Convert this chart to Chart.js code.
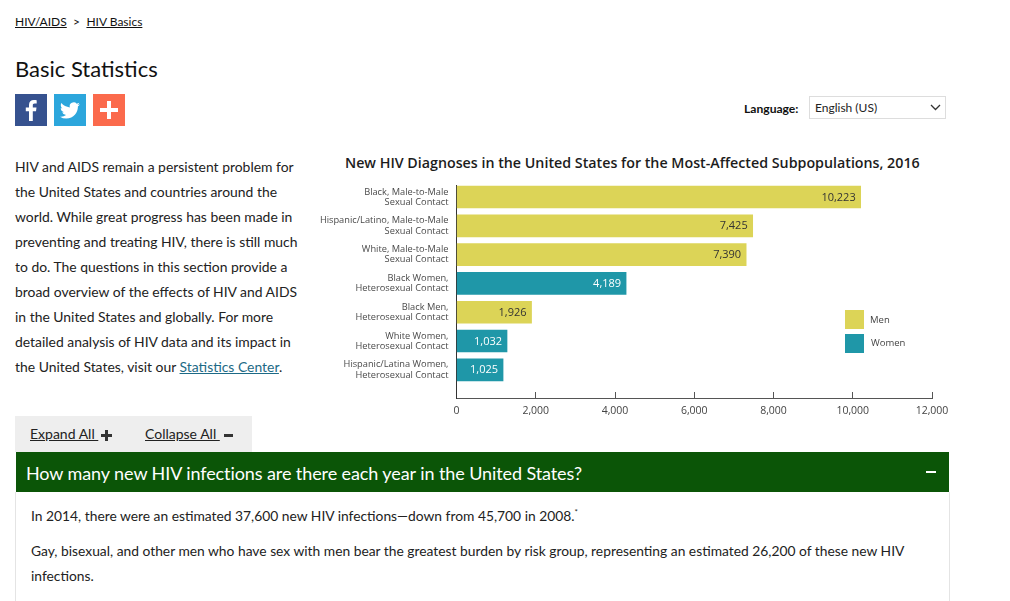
<!DOCTYPE html>
<html lang="en">
<head>
    <meta charset="UTF-8">
    <title>Basic Statistics</title>
    <style>
        html, body { margin: 0; padding: 0; background: #fff; }
        body { width: 1010px; height: 601px; position: relative; overflow: hidden; font-family: Lato, sans-serif; color: #222; }
        .abs { position: absolute; white-space: nowrap; }
        a { color: inherit; text-decoration: underline; }
        .crumbs { left: 15px; top: 14px; font-size: 12px; line-height: 16px; color: #111; }
        h1 { margin: 0; left: 15px; top: 55px; font-size: 22px; line-height: 28px; font-weight: 400; color: #111; }
        .icon { top: 94px; width: 32px; height: 32px; }
        .intro { left: 15px; top: 154px; font-size: 13.92px; line-height: 25px; color: #222; }
        .intro a { color: #1d6a86; }
        .lang { left: 744px; top: 101px; font-size: 12.1px; line-height: 15px; font-weight: 700; color: #111; }
        .select { left: 809px; top: 96px; width: 135px; height: 21px; border: 1px solid #ddd; font-size: 12px; line-height: 21px; text-indent: 5px; color: #222; }
        .chart-title { left: 345px; top: 153px; font-family: "Open Sans", sans-serif; font-size: 14.25px; line-height: 20px; font-weight: 600; color: #1c1c1c; }
        #chartBox { position: absolute; left: 310px; top: 150px; width: 650px; height: 270px; }
        .swatch { width: 19px; height: 19px; left: 845px; }
        .legend { left: 870px; font-family: "Open Sans", sans-serif; font-size: 9.5px; line-height: 12px; color: #444; }
        .tools { left: 15px; top: 416px; width: 237px; height: 36px; background: #eee; }
        .tool { top: 425px; font-size: 14px; line-height: 17px; color: #222; }
        .sign { background: #333; }
        .green { left: 16px; top: 452px; width: 933px; height: 40px; background: #0b5507; }
        .question { left: 26px; top: 461px; font-size: 18px; letter-spacing: -0.09px; line-height: 24px; color: #fff; }
        .minus { left: 926px; top: 471px; width: 10px; height: 2px; background: #fff; }
        .body-line { top: 492px; width: 1px; height: 109px; background: #e4e4e4; }
        .answer { left: 31px; font-size: 13.82px; line-height: 25px; color: #222; }
        sup { font-size: 8px; line-height: 0; }
    </style>
    <script src="https://cdn.jsdelivr.net/npm/chart.js"></script>
</head>
<body>
    <div class="abs crumbs"><a href="#">HIV/AIDS</a> &nbsp;&gt;&nbsp;&thinsp;<a href="#" style="margin-left:2px">HIV Basics</a></div>
    <h1 class="abs">Basic Statistics</h1>

    <svg class="abs icon" style="left:15px" viewBox="0 0 32 32"><rect width="32" height="32" fill="#36528f"/><path fill="#fff" d="M17.8 27V17.3h3.2l.5-3.7h-3.7v-2.3c0-1.1.4-1.8 1.9-1.8h2V6.2c-.4 0-1.5-.2-2.9-.2-2.8 0-4.8 1.7-4.8 4.9v2.7h-3.2v3.7H14V27z"/></svg>
    <svg class="abs icon" style="left:54px" viewBox="0 0 32 32"><rect width="32" height="32" fill="#2ca6dc"/><g transform="translate(6 6.5) scale(0.83)"><path fill="#fff" d="M23.95 4.57a10 10 0 0 1-2.82.77 4.96 4.96 0 0 0 2.16-2.72c-.95.56-2 .96-3.12 1.19a4.92 4.92 0 0 0-8.38 4.48C7.69 8.09 4.07 6.13 1.64 3.16a4.82 4.82 0 0 0-.66 2.48c0 1.71.87 3.21 2.19 4.1a4.9 4.9 0 0 1-2.23-.62v.06a4.92 4.92 0 0 0 3.95 4.83 5 5 0 0 1-2.21.08 4.94 4.94 0 0 0 4.6 3.42A9.87 9.87 0 0 1 0 19.54a14 14 0 0 0 7.56 2.21c9.05 0 14-7.5 14-13.98 0-.21 0-.42-.02-.63a9.94 9.94 0 0 0 2.46-2.55z"/></g></svg>
    <svg class="abs icon" style="left:93px" viewBox="0 0 32 32"><rect width="32" height="32" fill="#fb6a4c"/><path fill="#fff" d="M14 7h4v7h7v4h-7v7h-4v-7H7v-4h7z"/></svg>

    <div class="abs lang">Language:</div>
    <div class="abs select">English (US)
        <svg style="position:absolute;left:120px;top:7px" width="11" height="7" viewBox="0 0 11 7"><path d="M1 1l4.5 4.5L10 1" fill="none" stroke="#333" stroke-width="1.3"/></svg>
    </div>

    <div class="abs intro">HIV and AIDS remain a persistent problem for<br>the United States and countries around the<br>world. While great progress has been made in<br>preventing and treating HIV, there is still much<br>to do. The questions in this section provide a<br>broad overview of the effects of HIV and AIDS<br>in the United States and globally. For more<br>detailed analysis of HIV data and its impact in<br>the United States, visit our <a href="#">Statistics Center</a>.</div>

    <div class="abs chart-title">New HIV Diagnoses in the United States for the Most-Affected Subpopulations, 2016</div>
    <div id="chartBox"><canvas id="chart" width="650" height="270"></canvas></div>

    <div class="abs swatch" style="top:310px;background:#dcd457"></div>
    <div class="abs legend" style="top:314px">Men</div>
    <div class="abs swatch" style="top:334px;background:#1f97a8"></div>
    <div class="abs legend" style="top:337px;left:871px">Women</div>

    <div class="abs tools"></div>
    <div class="abs tool" style="left:30px"><a href="#">Expand All&nbsp;</a></div>
    <div class="abs sign" style="left:101px;top:434px;width:11px;height:3px"></div>
    <div class="abs sign" style="left:105px;top:430px;width:3px;height:11px"></div>
    <div class="abs tool" style="left:145px"><a href="#">Collapse All&nbsp;</a></div>
    <div class="abs sign" style="left:224px;top:434px;width:9px;height:3px"></div>

    <div class="abs green"></div>
    <div class="abs question">How many new HIV infections are there each year in the United States?</div>
    <div class="abs minus"></div>
    <div class="abs body-line" style="left:15px"></div>
    <div class="abs body-line" style="left:949px"></div>
    <div class="abs answer" style="top:503px">In 2014, there were an estimated 37,600 new HIV infections—down from 45,700 in 2008.<sup>*</sup></div>
    <div class="abs answer" style="top:538px">Gay, bisexual, and other men who have sex with men bear the greatest burden by risk group, representing an estimated 26,200 of these new HIV<br>infections.</div>

    <script>
        const categories = [
            ['Black, Male-to-Male', 'Sexual Contact'],
            ['Hispanic/Latino, Male-to-Male', 'Sexual Contact'],
            ['White, Male-to-Male', 'Sexual Contact'],
            ['Black Women,', 'Heterosexual Contact'],
            ['Black Men,', 'Heterosexual Contact'],
            ['White Women,', 'Heterosexual Contact'],
            ['Hispanic/Latina Women,', 'Heterosexual Contact']
        ];
        // bar lengths as measured against the axis, the source art does not quite follow its printed numbers
        const menValues = [10200, 7475, 7310, null, 1894, null, null];
        const womenValues = [null, null, null, 4280, null, 1275, 1175];
        // numbers printed on the bars
        const printedMen = ['10,223', '7,425', '7,390', null, '1,926', null, null];
        const printedWomen = [null, null, null, '4,189', null, '1,032', '1,025'];
        const tickValues = [0, 2000, 4000, 6000, 8000, 10000, 12000];

        const tickFont = { family: 'Open Sans', size: 10.5 };

        // writes the printed number inside the end of each bar
        const barLabels = {
            id: 'barLabels',
            afterDatasetsDraw(chart) {
                const ctx = chart.ctx;
                ctx.save();
                ctx.font = '11px "Open Sans"';
                ctx.textAlign = 'right';
                ctx.textBaseline = 'middle';
                [printedMen, printedWomen].forEach((texts, d) => {
                    ctx.fillStyle = d === 0 ? '#333' : '#fff';
                    chart.getDatasetMeta(d).data.forEach((bar, i) => {
                        if (texts[i]) ctx.fillText(texts[i], bar.x - 5, bar.y + 0.5);
                    });
                });
                ctx.restore();
            }
        };

        new Chart(document.getElementById('chart'), {
            type: 'bar',
            data: {
                labels: categories,
                datasets: [
                    { label: 'Men', data: menValues, backgroundColor: '#dcd457', grouped: false, barThickness: 22 },
                    { label: 'Women', data: womenValues, backgroundColor: '#1f97a8', grouped: false, barThickness: 22 }
                ]
            },
            options: {
                indexAxis: 'y',
                responsive: false,
                animation: false,
                layout: { padding: { top: 35, right: 28, bottom: 0, left: 0 } },
                plugins: { legend: { display: false }, title: { display: false }, tooltip: { enabled: false } },
                scales: {
                    x: {
                        min: 0,
                        max: 12000,
                        afterFit(scale) { scale.height = 22; scale.paddingRight = 17; },
                        afterBuildTicks(scale) { scale.ticks = tickValues.map(v => ({ value: v })); },
                        grid: { drawOnChartArea: false, tickLength: -6, color: '#555' },
                        border: { color: '#555', width: 1 },
                        ticks: {
                            padding: 13,
                            maxRotation: 0,
                            color: '#444',
                            font: tickFont,
                            callback: v => v.toLocaleString('en-US')
                        }
                    },
                    y: {
                        afterFit(scale) { scale.width = 146.5; },
                        // leave the empty run of axis under the last bar
                        afterUpdate(scale) { scale._startValue = -0.417; scale._valueRange = 7.396; },
                        grid: { display: false },
                        border: { color: '#333', width: 1 },
                        ticks: {
                            padding: 0,
                            autoSkip: false,
                            color: '#4a4a4a',
                            font: { family: 'Open Sans', size: 9.25, lineHeight: 1.1 }
                        }
                    }
                }
            },
            plugins: [barLabels]
        });
    </script>
</body>
</html>
